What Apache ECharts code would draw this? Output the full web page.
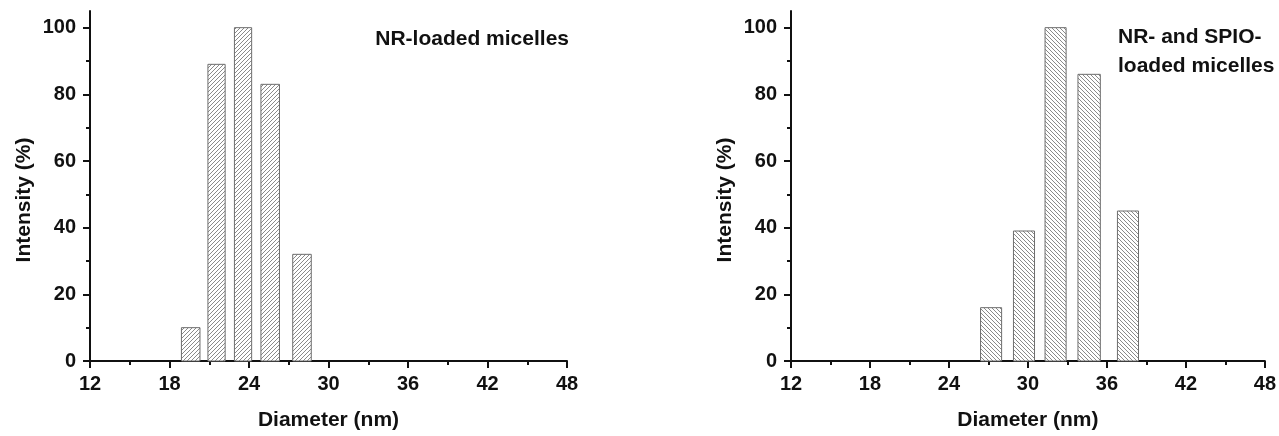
<!DOCTYPE html>
<html>
<head>
<meta charset="utf-8">
<script src="https://cdn.jsdelivr.net/npm/echarts@6/dist/echarts.min.js"></script>
<style>
  html, body { margin: 0; padding: 0; background: #fff; }
  #chart { width: 1279px; height: 436px; }
</style>
</head>
<body>
<div id="chart"></div>
<script>
// bins: start / end diameter (nm) and intensity (%)
const nrBinStart = [18.9, 20.9, 22.9, 24.9, 27.3]
const nrBinEnd = [20.3, 22.2, 24.2, 26.3, 28.7]
const nrIntensity = [10, 89, 100, 83, 32]

const spioBinStart = [26.4, 28.9, 31.3, 33.8, 36.8]
const spioBinEnd = [28.0, 30.5, 32.9, 35.5, 38.4]
const spioIntensity = [16, 39, 100, 86, 45]

const xTicks = [12, 18, 24, 30, 36, 42, 48]
const yTicks = [0, 20, 40, 60, 80, 100]
const yMinorTicks = [10, 30, 50, 70, 90]

const FONT = "'Liberation Sans', Arial, sans-serif"

// hatch fill, dir 1 = "///", dir -1 = "\\\"
const makeHatch = (dir) => {
  const size = 4
  const c = document.createElement('canvas')
  c.width = size
  c.height = size
  const ctx = c.getContext('2d')
  ctx.fillStyle = '#fff'
  ctx.fillRect(0, 0, size, size)
  ctx.strokeStyle = '#8a8a8a'
  ctx.lineWidth = 1
  ctx.beginPath()
  for (let k = -1; k <= 1; k++) {
    if (dir > 0) {
      ctx.moveTo(k * size, size)
      ctx.lineTo(k * size + size, 0)
    } else {
      ctx.moveTo(k * size, 0)
      ctx.lineTo(k * size + size, size)
    }
  }
  ctx.stroke()
  return { type: 'pattern', image: c, repeat: 'repeat' }
}

const toBins = (starts, ends, vals) => starts.map((s, i) => [s, ends[i], vals[i]])

const grids = [
  { left: 90, top: 11, width: 477, height: 356 },
  { left: 791, top: 11, width: 475, height: 356 },
]

const axisLine = { show: true, onZero: false, lineStyle: { color: '#111', width: 2 } }
const labelStyle = { color: '#111', fontSize: 20, fontWeight: 'bold', fontFamily: FONT }
const nameStyle = { color: '#111', fontSize: 21, fontWeight: 'bold', fontFamily: FONT }
const titleStyle = { color: '#111', fontSize: 21, fontWeight: 'bold', fontFamily: FONT, lineHeight: 29 }

const xAxes = []
const yAxes = []
grids.forEach((g, i) => {
  xAxes.push({
    type: 'value', gridIndex: i, position: 'bottom',
    min: 12, max: 48, interval: 6,
    name: 'Diameter (nm)', nameLocation: 'middle', nameGap: 49, nameTextStyle: nameStyle,
    axisLine,
    axisTick: { show: true, length: 7, lineStyle: { color: '#111', width: 2 } },
    minorTick: { show: true, splitNumber: 2, length: 4, lineStyle: { color: '#111', width: 2 } },
    axisLabel: { ...labelStyle, margin: 13, customValues: xTicks },
    splitLine: { show: false },
  })
  yAxes.push({
    type: 'value', gridIndex: i, position: 'left',
    min: 0, max: 105, interval: 20,
    name: 'Intensity (%)', nameLocation: 'middle', nameGap: 55,
    // right padding pushes the rotated name a little below the axis centre
    nameTextStyle: { ...nameStyle, padding: [0, 28, 0, 0] },
    axisLine,
    axisTick: { show: true, length: 7, customValues: yTicks, lineStyle: { color: '#111', width: 2 } },
    axisLabel: { ...labelStyle, margin: 14, customValues: yTicks },
    splitLine: { show: false },
  })
  // minor ticks of the y axis
  yAxes.push({
    type: 'value', gridIndex: i, position: 'left',
    min: 0, max: 105, interval: 20,
    axisLine: { show: false },
    axisTick: { show: true, length: 4, customValues: yMinorTicks, lineStyle: { color: '#111', width: 2 } },
    axisLabel: { show: false },
    splitLine: { show: false },
  })
})

const binSeries = (idx, data, hatch) => ({
  type: 'custom',
  xAxisIndex: idx,
  yAxisIndex: idx * 2,
  data,
  clip: false,
  renderItem: (params, api) => {
    const p0 = api.coord([api.value(0), api.value(2)])
    const p1 = api.coord([api.value(1), 0])
    return {
      type: 'rect',
      shape: { x: p0[0], y: p0[1], width: p1[0] - p0[0], height: p1[1] - p0[1] },
      style: { fill: hatch, stroke: '#6e6e6e', lineWidth: 1 },
    }
  },
})

const chart = echarts.init(document.getElementById('chart'))
chart.setOption({
  backgroundColor: '#fff',
  animation: false,
  grid: grids,
  xAxis: xAxes,
  yAxis: yAxes,
  title: [
    { text: 'NR-loaded micelles', right: 1279 - 574, top: 20, textStyle: titleStyle },
    { text: 'NR- and SPIO-\nloaded micelles', left: 1113, top: 18, textStyle: titleStyle },
  ],
  series: [
    binSeries(0, toBins(nrBinStart, nrBinEnd, nrIntensity), makeHatch(1)),
    binSeries(1, toBins(spioBinStart, spioBinEnd, spioIntensity), makeHatch(-1)),
  ],
})
</script>
</body>
</html>
